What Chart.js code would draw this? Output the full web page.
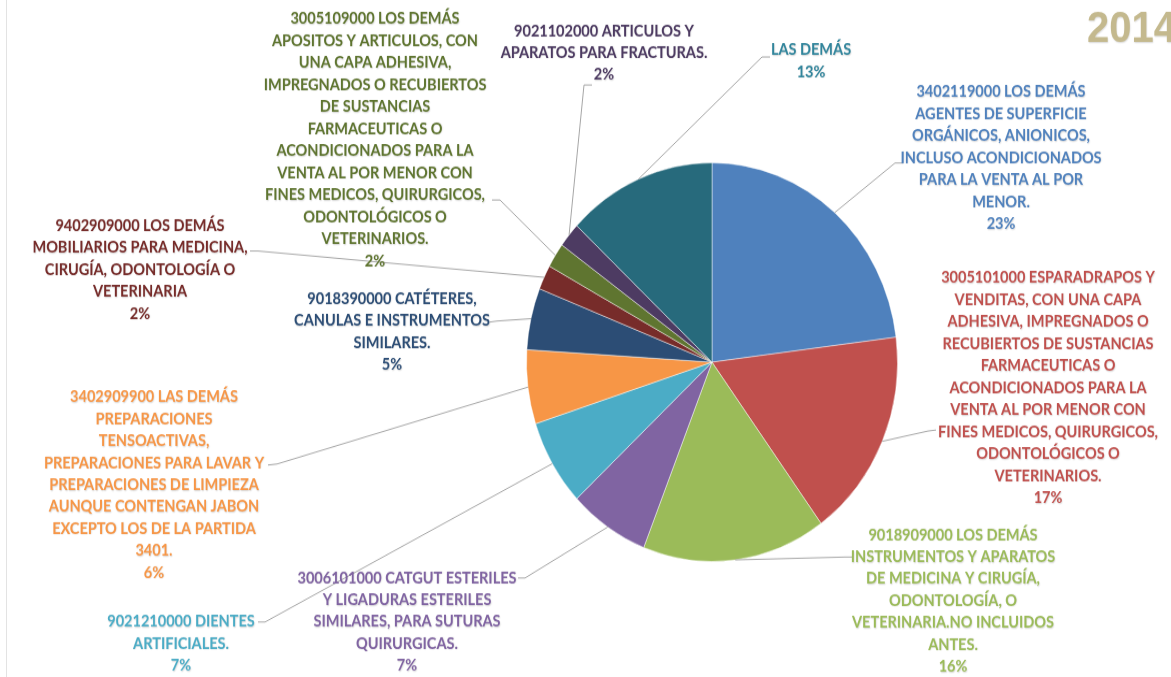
<!DOCTYPE html>
<html>
<head>
<meta charset="utf-8">
<script src="https://cdn.jsdelivr.net/npm/chart.js@4.4.1/dist/chart.umd.min.js"></script>
<style>
  html, body { margin: 0; padding: 0; background: #fff; overflow: hidden; }
  #pie { display: block; }
</style>
</head>
<body>
<canvas id="pie" width="1171" height="630" style="width:1171px;height:677px"></canvas>
<script>
// datos
const categorias = [
  ["3402119000 LOS DEMÁS", "AGENTES DE SUPERFICIE", "ORGÁNICOS, ANIONICOS,", "INCLUSO ACONDICIONADOS", "PARA LA VENTA AL POR", "MENOR."],
  ["3005101000 ESPARADRAPOS Y", "VENDITAS, CON UNA CAPA", "ADHESIVA, IMPREGNADOS O", "RECUBIERTOS DE SUSTANCIAS", "FARMACEUTICAS O", "ACONDICIONADOS PARA LA", "VENTA AL POR MENOR CON", "FINES MEDICOS, QUIRURGICOS,", "ODONTOLÓGICOS O", "VETERINARIOS."],
  ["9018909000 LOS DEMÁS", "INSTRUMENTOS Y APARATOS", "DE MEDICINA Y CIRUGÍA,", "ODONTOLOGÍA, O", "VETERINARIA.NO INCLUIDOS", "ANTES."],
  ["3006101000 CATGUT ESTERILES", "Y LIGADURAS ESTERILES", "SIMILARES, PARA SUTURAS", "QUIRURGICAS."],
  ["9021210000 DIENTES", "ARTIFICIALES."],
  ["3402909900 LAS DEMÁS", "PREPARACIONES", "TENSOACTIVAS,", "PREPARACIONES PARA LAVAR Y", "PREPARACIONES DE LIMPIEZA", "AUNQUE CONTENGAN JABON", "EXCEPTO LOS DE LA PARTIDA", "3401."],
  ["9018390000 CATÉTERES,", "CANULAS E INSTRUMENTOS", "SIMILARES."],
  ["9402909000 LOS DEMÁS", "MOBILIARIOS PARA MEDICINA,", "CIRUGÍA, ODONTOLOGÍA O", "VETERINARIA"],
  ["3005109000 LOS DEMÁS", "APOSITOS Y ARTICULOS, CON", "UNA CAPA ADHESIVA,", "IMPREGNADOS O RECUBIERTOS", "DE SUSTANCIAS", "FARMACEUTICAS O", "ACONDICIONADOS PARA LA", "VENTA AL POR MENOR CON", "FINES MEDICOS, QUIRURGICOS,", "ODONTOLÓGICOS O", "VETERINARIOS."],
  ["9021102000 ARTICULOS Y", "APARATOS PARA FRACTURAS."],
  ["LAS DEMÁS"]
];
const valores = [23, 17, 16, 7, 7, 6, 5, 2, 2, 2, 13];
const anio = "2014";

// colores
const coloresSector = ["#4F81BD", "#C0504D", "#9BBB59", "#8064A2", "#4BACC6", "#F79646",
                       "#2C4D75", "#772C2A", "#5F7530", "#4D3B62", "#276A7C"];
const coloresTexto = ["#4F81BD", "#C0504D", "#9BBB59", "#8064A2", "#4BACC6", "#F79646",
                      "#2C4D75", "#772C2A", "#5F7530", "#4D3B62", "#31859C"];

// posicion de etiquetas (centro x, y de la primera linea) y quiebre de la linea guia
const posEtiqueta = [[1001, 92], [1048, 278], [953, 535], [407, 578], [181, 622], [154, 397],
                     [392, 299], [140, 226], [375, 19], [604, 31], [811, 50]];
const codo = [[895, 163], [928, 431], [845, 557], [525, 578], [265, 622], [277, 464],
              [497, 321], [258, 251], [500, 200], [584, 85], [762, 57]];
const finGuia = [[903, 163], [936, 430], [852, 557], [518, 578], [258, 622], [268, 465],
                 [490, 322], [250, 251], [492, 200], [592, 85], [770, 57]];

const SY = 677 / 630;
const LINEA = 22;

const etiquetas = {
  id: "etiquetas",
  afterDatasetsDraw(chart) {
    const ctx = chart.ctx;
    const arcs = chart.getDatasetMeta(0).data;
    ctx.save();
    // borde izquierdo
    ctx.strokeStyle = "#e3e3e3";
    ctx.lineWidth = 1;
    ctx.beginPath();
    ctx.moveTo(6.5, 0);
    ctx.lineTo(6.5, 630);
    ctx.stroke();

    arcs.forEach((arc, i) => {
      const p = arc.getProps(["x", "y", "startAngle", "endAngle", "outerRadius"], true);
      const a = (p.startAngle + p.endAngle) / 2;
      const sx = p.x + Math.cos(a) * p.outerRadius;
      const sy = p.y + Math.sin(a) * p.outerRadius;
      ctx.strokeStyle = "#a6a6a6";
      ctx.lineWidth = 1;
      ctx.beginPath();
      ctx.moveTo(sx, sy);
      ctx.lineTo(codo[i][0], codo[i][1] / SY);
      ctx.lineTo(finGuia[i][0], finGuia[i][1] / SY);
      ctx.stroke();
    });

    ctx.font = "bold 14.5px Lato";
    ctx.textAlign = "center";
    ctx.textBaseline = "middle";
    ctx.shadowColor = "rgba(0,0,0,0.18)";
    ctx.shadowBlur = 1.5;
    ctx.shadowOffsetX = 0.5;
    ctx.shadowOffsetY = 0.5;
    const total = valores.reduce((s, v) => s + v, 0);
    categorias.forEach((lineas, i) => {
      const todas = lineas.concat([Math.round(valores[i] / total * 100) + "%"]);
      ctx.fillStyle = coloresTexto[i];
      todas.forEach((t, k) => {
        ctx.fillText(t, posEtiqueta[i][0], (posEtiqueta[i][1] + k * LINEA) / SY);
      });
    });

    ctx.font = "bold 40px 'Liberation Sans'";
    ctx.textAlign = "right";
    ctx.textBaseline = "alphabetic";
    ctx.fillStyle = "#C4B98E";
    ctx.shadowColor = "rgba(0,0,0,0.15)";
    ctx.fillText(anio, 1176, 42 / SY);
    ctx.restore();
  }
};

new Chart(document.getElementById("pie"), {
  type: "pie",
  data: {
    labels: categorias.map((l) => l.join(" ")),
    datasets: [{
      data: valores,
      backgroundColor: coloresSector,
      borderColor: "rgba(255,255,255,0.45)",
      borderWidth: 1,
    }],
  },
  options: {
    responsive: false,
    animation: false,
    layout: { padding: { left: 526, right: 273, top: 151, bottom: 107 } },
    plugins: {
      legend: { display: false },
      tooltip: { enabled: false },
    },
  },
  plugins: [etiquetas],
});
</script>
</body>
</html>
